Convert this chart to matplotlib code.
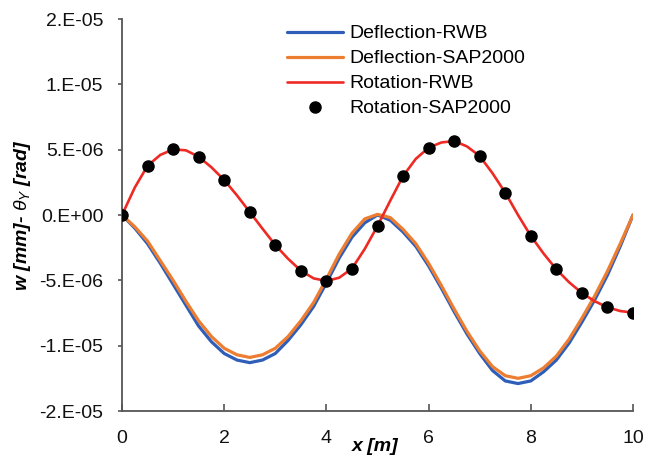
import numpy as np
import matplotlib
matplotlib.use("Agg")
import matplotlib.pyplot as plt

plt.rcParams['font.family'] = ['Liberation Sans', 'DejaVu Sans']
plt.rcParams['mathtext.fontset'] = 'custom'
plt.rcParams['mathtext.it'] = 'Liberation Sans:italic'
plt.rcParams['mathtext.rm'] = 'Liberation Sans'

# x positions (m)
x_line = np.arange(0, 10.01, 0.25)
x_dots = np.arange(0, 10.01, 0.5)

# deflection (in units of 1e-6)
defl_rwb = [0.0, -1.0, -2.2, -3.7, -5.3, -6.9, -8.5, -9.7, -10.6, -11.1, -11.3,
            -11.1, -10.6, -9.6, -8.4, -7.0, -5.2, -3.3, -1.7, -0.6, 0.0,
            -0.4, -1.3, -2.4, -3.9, -5.6, -7.4, -9.1, -10.6, -11.9, -12.7,
            -12.9, -12.7, -12.0, -11.1, -9.8, -8.2, -6.5, -4.6, -2.4, 0.0]
defl_sap = [0.0, -0.9, -2.0, -3.5, -5.0, -6.6, -8.1, -9.3, -10.2, -10.7, -10.9,
            -10.7, -10.2, -9.3, -8.1, -6.7, -4.9, -3.0, -1.4, -0.3, 0.05,
            -0.2, -1.1, -2.2, -3.7, -5.4, -7.2, -8.9, -10.4, -11.6, -12.3,
            -12.5, -12.3, -11.7, -10.8, -9.5, -7.9, -6.2, -4.3, -2.2, 0.0]

# rotation (units of 1e-6)
rot_rwb = [0.0, 2.1, 3.77, 4.6, 5.02, 4.95, 4.46, 3.65, 2.68, 1.5, 0.23,
           -1.05, -2.3, -3.35, -4.26, -4.85, -5.05, -4.8, -4.1, -2.6, -0.84,
           1.1, 2.98, 4.3, 5.15, 5.55, 5.66, 5.25, 4.51, 3.2, 1.71,
           0.0, -1.6, -2.95, -4.16, -5.15, -5.97, -6.6, -7.06, -7.35, -7.47]
rot_sap = [0.0, 3.77, 5.02, 4.46, 2.68, 0.23, -2.3, -4.26, -5.05, -4.13, -0.84,
           2.98, 5.15, 5.66, 4.51, 1.71, -1.6, -4.16, -5.97, -7.06, -7.47]

y_ticks = [-1.5e-5, -1e-5, -5e-6, 0, 5e-6, 1e-5, 1.5e-5]
y_ticklabels = ['-2.E-05', '-1.E-05', '-5.E-06', '0.E+00', '5.E-06', '1.E-05', '2.E-05']
x_ticks = [0, 2, 4, 6, 8, 10]

scale = 1e-6
fig = plt.figure(figsize=(6.58, 4.59), dpi=100)
ax = fig.add_axes([122 / 658, 1 - 411 / 459, 511 / 658, 392 / 459])

line_kw = dict(solid_joinstyle='round', solid_capstyle='round')
ax.plot(x_line, np.array(defl_rwb) * scale, color='#2E5EB8', lw=2.3, label='Deflection-RWB', zorder=2, **line_kw)
ax.plot(x_line, np.array(defl_sap) * scale, color='#ED7D31', lw=2.3, label='Deflection-SAP2000', zorder=3, **line_kw)
ax.plot(x_line, np.array(rot_rwb) * scale, color='#EE2A24', lw=1.9, label='Rotation-RWB', zorder=4, **line_kw)
ax.plot(x_dots, np.array(rot_sap) * scale, 'o', color='black', ms=8, label='Rotation-SAP2000', zorder=5)

ax.set_xlim(0, 10)
ax.set_ylim(-1.5e-5, 1.5e-5)
ax.set_xticks(x_ticks)
ax.set_yticks(y_ticks)
ax.set_yticklabels(y_ticklabels)

for s in ['top', 'right']:
    ax.spines[s].set_visible(False)
for s in ['left', 'bottom']:
    ax.spines[s].set_color('#555555')
    ax.spines[s].set_linewidth(1.3)

ax.tick_params(axis='y', direction='out', length=3, width=1.2, color='#555555',
               labelsize=14, pad=10.5, labelcolor='#111111')
ax.tick_params(axis='x', direction='in', length=5, width=1.2, color='#555555',
               labelsize=14, pad=14, labelcolor='#111111')

ax.set_xlabel('x [m]', fontsize=14, fontweight='bold', fontstyle='italic')
ax.xaxis.set_label_coords(0.495, -0.069)
ax.set_ylabel(r'w [mm]- $\theta_{Y}$ [rad]', fontsize=14, fontweight='bold', fontstyle='italic')
ax.yaxis.set_label_coords(-0.174, 0.5)

ax.legend(loc='upper left', bbox_to_anchor=(0.323, 0.985), frameon=False, fontsize=14,
          handlelength=2.9, handletextpad=0.3, labelspacing=0.38, borderpad=0, borderaxespad=0)

fig.savefig('out.png', dpi=100)
